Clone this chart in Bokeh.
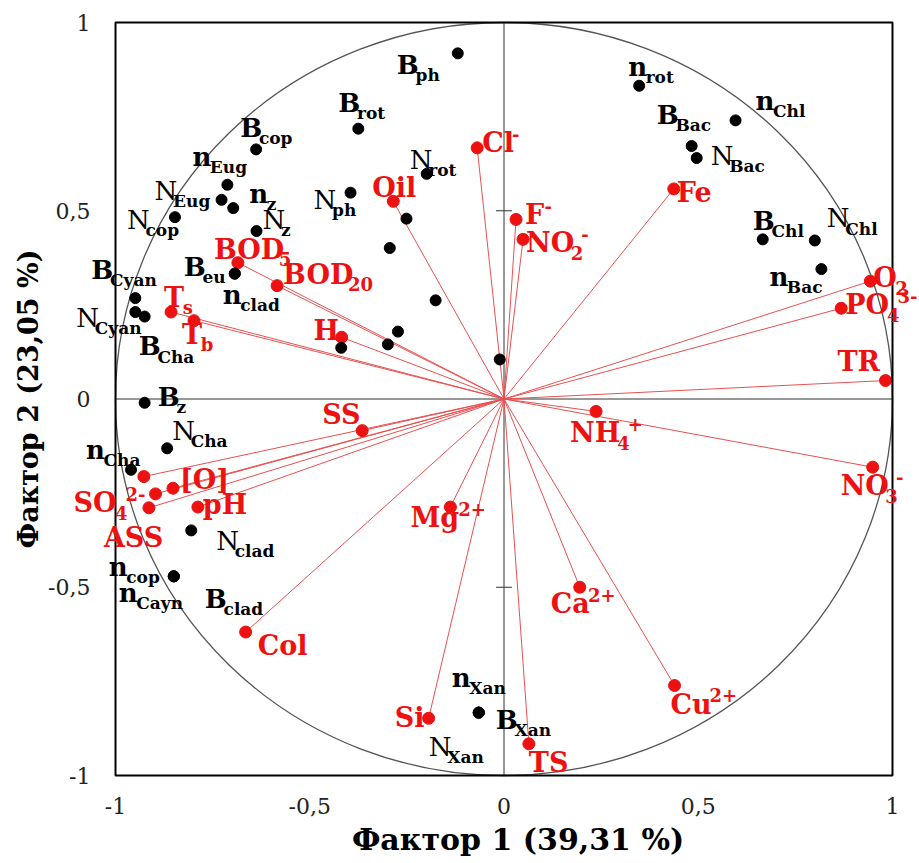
import math
from bokeh.plotting import figure
from bokeh.models import ColumnDataSource, Range1d
from bokeh.embed import file_html
from bokeh.resources import INLINE
from bokeh.core.properties import value

# ---------------- data ----------------
# hydrobionts (black points); "_" separates subscript
bio_labels = ["B_cop", "n_Eug", "N_Eug", "n_z", "N_cop", "N_z", "B_eu", "n_clad",
              "B_ph", "B_rot", "N_rot", "N_ph", "n_rot", "n_Chl", "B_Bac", "N_Bac",
              "B_Chl", "N_Chl", "n_Bac", "B_Cyan", "N_Cyan", "B_Cha", "B_z", "N_Cha",
              "n_Cha", "N_clad", "n_cop", "n_Cayn", "B_clad", "n_Xan", "B_Xan", "N_Xan",
              "", "", "", "", "", "", ""]
bio_x = [-0.638, -0.712, -0.727, -0.697, -0.847, -0.637, -0.693, -0.693,
         -0.119, -0.375, -0.199, -0.395, 0.348, 0.596, 0.483, 0.496,
         0.666, 0.800, 0.817, -0.949, -0.949, -0.925, -0.925, -0.867,
         -0.960, -0.805, -0.850, -0.850, -0.850, -0.065, -0.065, -0.065,
         -0.176, -0.273, -0.299, -0.419, -0.011, -0.251, -0.294]
bio_y = [0.663, 0.569, 0.529, 0.507, 0.483, 0.446, 0.333, 0.333,
         0.918, 0.718, 0.598, 0.548, 0.832, 0.740, 0.672, 0.640,
         0.424, 0.421, 0.345, 0.268, 0.231, 0.219, -0.010, -0.131,
         -0.188, -0.349, -0.471, -0.471, -0.471, -0.833, -0.833, -0.833,
         0.262, 0.179, 0.145, 0.136, 0.105, 0.479, 0.401]

# environmental factors (red vectors); "_" subscript, "^" superscript
env_labels = ["Cl^-", "Oil", "F^-", "NO_2^-", "Fe", "O_2", "PO_4^3-", "TR", "NH_4^+",
              "NO_3^-", "BOD_5", "BOD_20", "T_s", "T_b", "H", "SS", "Mg^2+", "[O]",
              "SO_4^2-", "pH", "ASS", "", "Col", "Si", "TS", "Ca^2+", "Cu^2+"]
env_x = [-0.069, -0.285, 0.031, 0.049, 0.437, 0.943, 0.868, 0.982, 0.237,
         0.949, -0.685, -0.584, -0.857, -0.798, -0.418, -0.365, -0.138, -0.852,
         -0.897, -0.788, -0.914, -0.927, -0.665, -0.194, 0.064, 0.195, 0.439]
env_y = [0.667, 0.525, 0.477, 0.424, 0.558, 0.313, 0.241, 0.049, -0.033,
         -0.181, 0.362, 0.301, 0.231, 0.208, 0.164, -0.084, -0.287, -0.237,
         -0.252, -0.287, -0.289, -0.206, -0.619, -0.848, -0.916, -0.500, -0.761]

tick_vals = [-1, -0.5, 0, 0.5, 1]
tick_text = ["-1", "-0,5", "0", "0,5", "1"]
zero_axis_ticks = [-0.5, 0.5]
x_title = "Фактор 1 (39,31 %)"
y_title = "Фактор 2 (23,05 %)"

# ---------------- label placement (screen px, +dy = down: left/baseline of main text vs. point) ----------------
bio_offsets = {
    "B_cop": (-16, -12), "n_Eug": (-35, -19), "N_Eug": (-67, 0), "n_z": (16, -5),
    "N_cop": (-48, 12), "N_z": (6, -2), "B_eu": (-51, 2), "n_clad": (-12, 30),
    "B_ph": (-61, 21), "B_rot": (-20, -17), "N_rot": (-17, -5), "N_ph": (-37, 16),
    "n_rot": (-11, -10), "n_Chl": (20, -10), "B_Bac": (-35, -22), "N_Bac": (14, 7),
    "B_Chl": (-10, -9), "N_Chl": (12, -13), "n_Bac": (-52, 17), "B_Cyan": (-44, -19),
    "N_Cyan": (-59, 15), "B_Cha": (-6, 39), "B_z": (13, 3), "N_Cha": (5, -8),
    "n_Cha": (-45, -11), "N_clad": (25, 20), "n_cop": (-65, 0), "n_Cayn": (-55, 26),
    "B_clad": (31, 32), "n_Xan": (-27, -26), "B_Xan": (17, 16), "N_Xan": (-50, 43),
}
env_offsets = {
    "Cl^-": (5, 4), "Oil": (-21, -4), "F^-": (9, 5), "NO_2^-": (3, 13), "Fe": (3, 13),
    "O_2": (3, 6), "PO_4^3-": (4, 6), "TR": (-48, -10), "NH_4^+": (-26, 31),
    "NO_3^-": (-32, 28), "BOD_5": (-24, -4), "BOD_20": (6, -2), "T_s": (-7, -5),
    "T_b": (-12, 23), "H": (-28, 3), "SS": (-40, -7), "Mg^2+": (-40, 20),
    "[O]": (7, 1), "SO_4^2-": (-82, 18), "pH": (5, 7), "ASS": (-45, 39),
    "Col": (12, 23), "Si": (-34, 9), "TS": (0, 28), "Ca^2+": (-29, 26), "Cu^2+": (-4, 28),
}

FONT = "DejaVu Serif"
RED = "#ee1111"
LINE_RED = "#e85050"
BIO_MAIN, BIO_SUB = 26, 17
ENV_MAIN, ENV_SUB = 27, 18
BASE_FIX = -0.35   # renderer draws "alphabetic" text lower; correction in em

# canvas geometry (px): plot box edges inside the canvas
CW, CH = 919, 860
BOX_L, BOX_R, BOX_T, BOX_B = 115, 892, 22, 775

# approximate advance widths (em) of DejaVu Serif Bold
W = {"B": 0.76, "n": 0.71, "N": 0.84, "T": 0.73, "O": 0.85, "D": 0.83, "P": 0.73,
     "H": 0.94, "S": 0.72, "C": 0.73, "l": 0.37, "F": 0.72, "M": 1.1, "g": 0.67,
     "a": 0.65, "u": 0.71}
WD = 0.70  # digits


def text_width(s, size, regular_N=False):
    tot = 0.0
    for c in s:
        if c.isdigit():
            tot += WD
        elif c == "N" and regular_N:
            tot += 0.75
        else:
            tot += W.get(c, 0.7)
    return tot * size


def parse(lbl):
    sup = ""
    if "^" in lbl:
        lbl, sup = lbl.split("^", 1)
    sub = ""
    if "_" in lbl:
        lbl, sub = lbl.split("_", 1)
    return lbl, sub, sup


def empty():
    return dict(x=[], y=[], text=[], dx=[], dy=[])


def add(d, x, y, t, dx, dy, size):
    d["x"].append(x); d["y"].append(y); d["text"].append(t)
    d["dx"].append(dx); d["dy"].append(dy + BASE_FIX * size)


bio_main_bold, bio_main_reg, bio_sub = empty(), empty(), empty()
for lbl, x, y in zip(bio_labels, bio_x, bio_y):
    if not lbl:
        continue
    main, sub, _ = parse(lbl)
    dx, dy = bio_offsets[lbl]
    if main == "N":
        add(bio_main_reg, x, y, main, dx, dy, BIO_MAIN)
        w = text_width(main, BIO_MAIN, regular_N=True)
    else:
        add(bio_main_bold, x, y, main, dx, dy, BIO_MAIN)
        w = text_width(main, BIO_MAIN)
    add(bio_sub, x, y, sub, dx + w - 1, dy + 7, BIO_SUB)

env_main, env_sub, env_sup = empty(), empty(), empty()
for lbl, x, y in zip(env_labels, env_x, env_y):
    if not lbl:
        continue
    main, sub, sup = parse(lbl)
    dx, dy = env_offsets[lbl]
    add(env_main, x, y, main, dx, dy, ENV_MAIN)
    w = text_width(main, ENV_MAIN)
    if sub:
        add(env_sub, x, y, sub, dx + w - 1, dy + 7, ENV_SUB)
        w += text_width(sub, ENV_SUB) - 3
    if sup:
        add(env_sup, x, y, sup, dx + w, dy - 12, ENV_SUB)

# ---------------- figure ----------------
lo, hi = min(tick_vals), max(tick_vals)
sx = (BOX_R - BOX_L) / (hi - lo)
sy = (BOX_B - BOX_T) / (hi - lo)
x_range = Range1d(lo - BOX_L / sx, hi + (CW - BOX_R) / sx)
y_range = Range1d(lo - (CH - BOX_B) / sy, hi + BOX_T / sy)

p = figure(frame_width=CW, frame_height=CH, min_border=0,
           x_range=x_range, y_range=y_range,
           x_axis_location=None, y_axis_location=None,
           output_backend="svg", toolbar_location=None, background_fill_color="white")
p.grid.visible = False
p.outline_line_color = None

# zero axes and their small ticks
p.segment(x0=[lo, 0], y0=[0, lo], x1=[hi, 0], y1=[0, hi], line_color="#333333", line_width=1)
p.scatter(x=[0] * len(zero_axis_ticks), y=zero_axis_ticks, marker="dash", size=16,
          line_color="#333333", line_width=1)

# correlation circle
p.ellipse(x=0, y=0, width=hi - lo, height=hi - lo, fill_color=None,
          line_color="#555555", line_width=1.3)

# vectors
env_src = ColumnDataSource(dict(x=env_x, y=env_y, x0=[0] * len(env_x), y0=[0] * len(env_y)))
p.segment(x0="x0", y0="y0", x1="x", y1="y", source=env_src, line_color=LINE_RED, line_width=1)
p.scatter(x="x", y="y", source=env_src, size=12, fill_color=RED, line_color=RED)

bio_src = ColumnDataSource(dict(x=bio_x, y=bio_y))
p.scatter(x="x", y="y", source=bio_src, size=11, fill_color="black", line_color="black")

# plot box
p.quad(left=lo, right=hi, bottom=lo, top=hi, fill_color=None, line_color="black", line_width=2)


def draw_text(data, size, color, style, align="left", baseline="alphabetic", angle=0):
    src = ColumnDataSource(data)
    p.text(x="x", y="y", text="text", x_offset="dx", y_offset="dy", source=src,
           text_font=value(FONT), text_font_size=value(f"{size}px"),
           text_font_style=value(style), text_color=color, angle=angle,
           text_align=align, text_baseline=baseline)


# tick labels
n = len(tick_vals)
draw_text(dict(x=tick_vals, y=[lo] * n, text=tick_text, dx=[0] * n, dy=[22] * n),
          22, "#222222", "normal", align="center", baseline="top")
draw_text(dict(x=[lo] * n, y=tick_vals, text=tick_text, dx=[-25] * n, dy=[0] * n),
          22, "#222222", "normal", align="right", baseline="middle")

# axis titles
draw_text(dict(x=[0], y=[lo], text=[x_title], dx=[14], dy=[64]),
          30, "black", "bold", align="center", baseline="middle")
draw_text(dict(x=[lo], y=[0], text=[y_title], dx=[-87], dy=[0]),
          27, "black", "bold", align="center", baseline="middle", angle=math.pi / 2)

# point labels
draw_text(bio_main_bold, BIO_MAIN, "black", "bold")
draw_text(bio_main_reg, BIO_MAIN, "black", "normal")
draw_text(bio_sub, BIO_SUB, "black", "bold")
draw_text(env_main, ENV_MAIN, RED, "bold")
draw_text(env_sub, ENV_SUB, RED, "bold")
draw_text(env_sup, ENV_SUB, RED, "bold")

open("out.html", "w").write(file_html(p, INLINE))
